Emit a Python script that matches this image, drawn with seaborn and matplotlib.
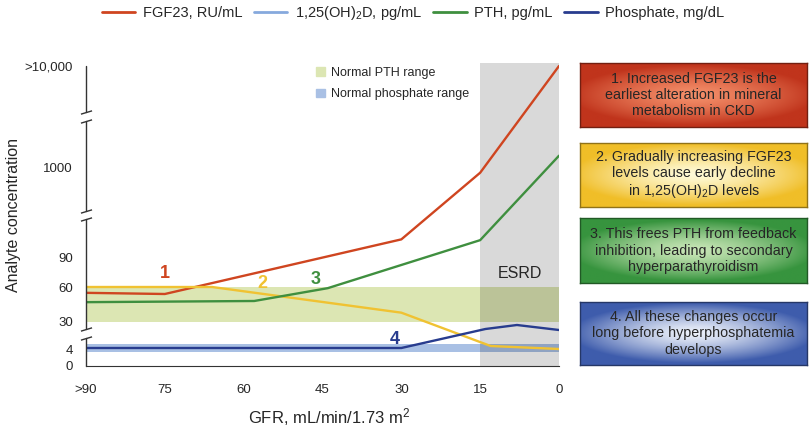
import numpy as np
import pandas as pd
import matplotlib.pyplot as plt
import seaborn as sns
from matplotlib.lines import Line2D
from matplotlib.patches import Patch

# ---------------- data ----------------
gfr_ticks = [90, 75, 60, 45, 30, 15, 0]
gfr_labels = [">90", "75", "60", "45", "30", "15", "0"]
conc_ticks = [0, 4, 30, 60, 90, 1000, 10000]
conc_labels = ["0", "4", "30", "60", "90", "1000", ">10,000"]

fgf23_gfr = [90, 75, 30, 15, 0]
fgf23 = [55, 54, 145, 880, 10000]
vitd_gfr = [90, 66, 30, 13, 0]
vitd = [60, 60, 38, 4.6, 4.0]
pth_gfr = [90, 58, 44, 15, 0]
pth = [47, 48, 59, 142, 1320]
phos_gfr = [90, 30, 14, 8, 0]
phos = [4.2, 4.2, 8.0, 8.8, 7.8]

pth_range = (30, 60)
phos_range = (3.3, 5.0)
esrd_gfr = (15, 0)

notes = [
    "1. Increased FGF23 is the\nearliest alteration in mineral\nmetabolism in CKD",
    "2. Gradually increasing FGF23\nlevels cause early decline\nin 1,25(OH)$_2$D levels",
    "3. This frees PTH from feedback\ninhibition, leading to secondary\nhyperparathyroidism",
    "4. All these changes occur\nlong before hyperphosphatemia\ndevelops",
]

RED, LBLUE, GREEN, DBLUE, YELLOW = "#cf4520", "#86a9dd", "#3f8f3f", "#283c8e", "#f0c232"

sns.set_style("white")
plt.rcParams["font.family"] = ["Liberation Sans", "DejaVu Sans"]
plt.rcParams["mathtext.fontset"] = "custom"
plt.rcParams["mathtext.rm"] = "Liberation Sans"
plt.rcParams["mathtext.it"] = "Liberation Sans:italic"

# ---------------- broken y scale (piecewise) ----------------
LIN_V, LIN_P = [0, 4, 9, 30, 60, 90], [0, 17, 42, 44, 79, 109]
LOG_V, LOG_P = np.log10([90, 1000, 10000, 100000]), [109, 198, 300, 402]


def fwd(v):
    v = np.asarray(v, float)
    lo = np.interp(v, LIN_V, LIN_P)
    hi = np.interp(np.log10(np.maximum(v, 1e-6)), LOG_V, LOG_P)
    return np.where(v <= 90, lo, hi)


def inv(p):
    p = np.asarray(p, float)
    lo = np.interp(p, LIN_P, LIN_V)
    hi = 10 ** np.interp(p, LOG_P, LOG_V)
    return np.where(p <= 109, lo, hi)


W, H = 810, 430
fig = plt.figure(figsize=(W / 100, H / 100), dpi=100)


def px(x0, y0, x1, y1):
    return [x0 / W, 1 - y1 / H, (x1 - x0) / W, (y1 - y0) / H]


ax = fig.add_axes(px(86, 63, 559, 366))
ax.set_yscale("function", functions=(fwd, inv))
ax.set_xlim(90, 0)
ax.set_ylim(0, float(inv(303)))

# bands and ESRD shading
ax.axhspan(*pth_range, color="#dce6b3", lw=0, zorder=1)
ax.axhspan(*phos_range, color="#a9c0e4", lw=0, zorder=1)
ax.axvspan(*esrd_gfr, color="black", alpha=0.15, lw=0, zorder=2)

for g, v, c in [(fgf23_gfr, fgf23, RED), (vitd_gfr, vitd, YELLOW),
                (pth_gfr, pth, GREEN), (phos_gfr, phos, DBLUE)]:
    df = pd.DataFrame({"gfr": g, "val": v})
    sns.lineplot(data=df, x="gfr", y="val", ax=ax, color=c, lw=1.7,
                 sort=False, legend=False, zorder=3)

ax.text(7.5, 74, "ESRD", ha="center", va="center", fontsize=11.5, zorder=4)
for lbl, gx, gy, c in [("1", 75, 74, RED), ("2", 56.5, 63, YELLOW),
                       ("3", 46.4, 68, GREEN), ("4", 31.2, 6.0, DBLUE)]:
    ax.text(gx, gy, lbl, ha="center", va="center", fontsize=13,
            fontweight="bold", color=c, zorder=4)

# axes styling
ax.set_xticks(gfr_ticks, gfr_labels, fontsize=9.5)
ax.set_yticks(conc_ticks, conc_labels, fontsize=9.5)
ax.tick_params(axis="x", direction="out", length=5, width=1, color="#333333", pad=8)
ax.tick_params(axis="y", direction="out", length=6.5, width=1, color="#333333", pad=3)
ax.yaxis.get_major_ticks()[2].tick1line.set_visible(False)
for s in ["top", "right", "left"]:
    ax.spines[s].set_visible(False)
ax.spines["bottom"].set_color("#333333")
ax.set_xlabel("")
ax.set_ylabel("")

# broken left spine
ytr = ax.get_yaxis_transform()
segs = [(0, 28), (37, 147), (155, 245), (254, 300)]
for p0, p1 in segs:
    ax.plot([0, 0], inv([p0, p1]), transform=ytr, color="#333333", lw=1,
            clip_on=False, zorder=5)
brk = [p for s in segs for p in s][1:-1]
ax.plot(np.zeros(len(brk)), inv(brk), transform=ytr, ls="none",
        marker=[(-1, -0.3), (1, 0.3)], ms=8, mew=1, color="#333333",
        clip_on=False, zorder=5)

fig.text(14 / W, 1 - 215 / H, "Analyte concentration", rotation=90,
         ha="center", va="center", fontsize=11.5)
fig.text(329 / W, 1 - 417 / H, "GFR, mL/min/1.73 m$^2$",
         ha="center", va="center", fontsize=12)

# legends
top_handles = [Line2D([0], [0], color=c, lw=2) for c in (RED, LBLUE, GREEN, DBLUE)]
fig.legend(top_handles,
           ["FGF23, RU/mL", "1,25(OH)$_2$D, pg/mL", "PTH, pg/mL", "Phosphate, mg/dL"],
           loc="center", bbox_to_anchor=(413 / W, 1 - 13 / H), ncol=4,
           frameon=False, fontsize=10.5, handlelength=2.3, handletextpad=0.5,
           columnspacing=0.8, borderpad=0, borderaxespad=0)
fig.legend([Patch(color="#dce6b3"), Patch(color="#a9c0e4")],
           ["Normal PTH range", "Normal phosphate range"],
           loc="upper left", bbox_to_anchor=(316 / W, 1 - 67 / H),
           frameon=False, fontsize=9, handlelength=0.7, handleheight=0.7,
           handletextpad=0.5, labelspacing=0.75, borderpad=0, borderaxespad=0)

# gradient note boxes
box_rows = [(63, 127), (143, 207), (218, 283), (302, 365)]
box_cols = [((192, 52, 28), (244, 142, 105)), ((240, 190, 40), (255, 250, 215)),
            ((55, 148, 62), (200, 230, 182)), ((62, 92, 172), (236, 241, 250))]
yy, xx = np.mgrid[-1:1:80j, -1:1:240j]
r = np.clip(np.hypot(xx * 0.92, yy * 1.05), 0, 1) ** 1.4
for (y0, y1), (edge, centre), txt in zip(box_rows, box_cols, notes):
    bx = fig.add_axes(px(580, y0, 807, y1))
    e, c = np.array(edge) / 255, np.array(centre) / 255
    img = c + (e - c) * r[..., None]
    bx.imshow(img, aspect="auto", extent=[0, 1, 0, 1])
    bx.set_xticks([])
    bx.set_yticks([])
    for sp in bx.spines.values():
        sp.set_color(tuple(e * 0.6))
        sp.set_linewidth(1)
    bx.text(0.5, 0.5, txt, ha="center", va="center", fontsize=10.3,
            linespacing=1.2, transform=bx.transAxes)

fig.savefig("out.png", dpi=100)
